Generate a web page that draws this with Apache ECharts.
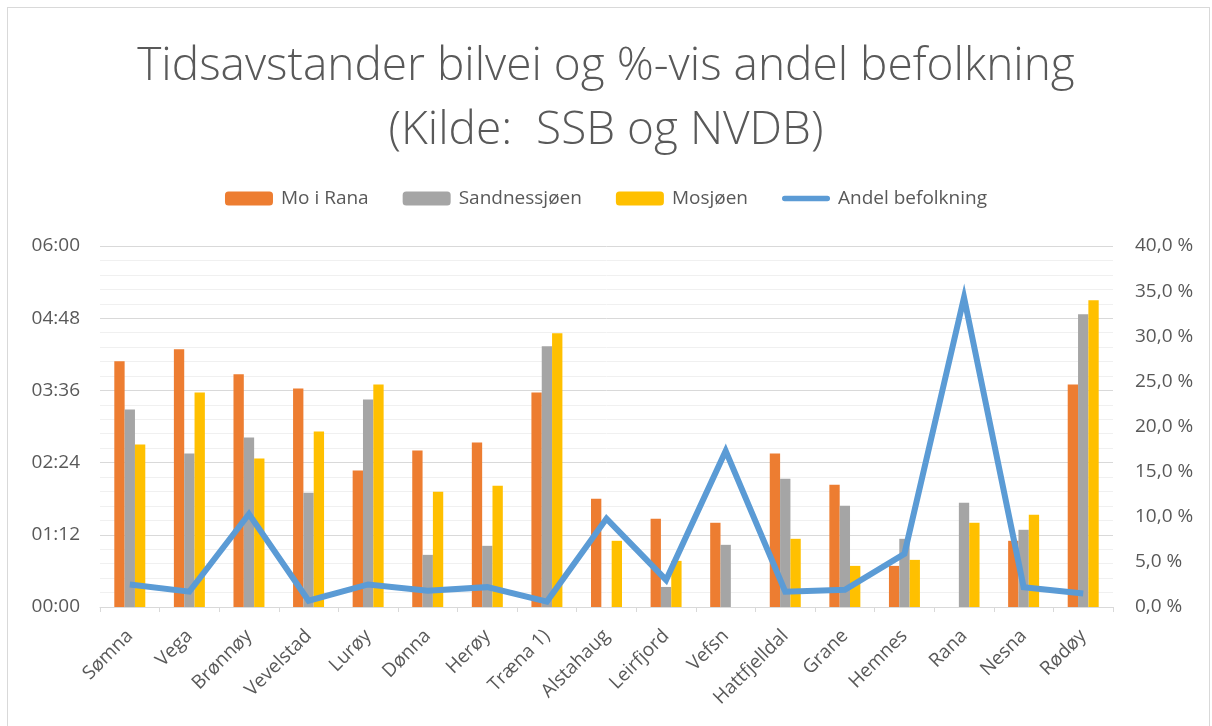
<!DOCTYPE html>
<html>
<head>
<meta charset="utf-8">
<script src="https://cdn.jsdelivr.net/npm/echarts@6/dist/echarts.min.js"></script>
<style>
  html, body { margin: 0; padding: 0; background: #fff; }
  #frame { position: absolute; left: 7px; top: 7px; width: 1203px; height: 720px; border: 1px solid #d9d9d9; box-sizing: border-box; }
  #chart { position: absolute; left: 0; top: 0; width: 1212px; height: 726px; }
</style>
</head>
<body>
<div id="frame"></div>
<div id="chart"></div>
<script>
let kommuner = ['Sømna', 'Vega', 'Brønnøy', 'Vevelstad', 'Lurøy', 'Dønna', 'Herøy', 'Træna 1)', 'Alstahaug', 'Leirfjord', 'Vefsn', 'Hattfjelldal', 'Grane', 'Hemnes', 'Rana', 'Nesna', 'Rødøy'];
// minutter
let moIRana = [245, 257, 232, 218, 136, 156, 164, 214, 108, 88, 84, 153, 122, 41, 0, 66, 222];
let sandnessjoen = [197, 153, 169, 114, 207, 52, 61, 260, 0, 20, 62, 128, 101, 68, 104, 77, 292];
let mosjoen = [162, 214, 148, 175, 222, 115, 121, 273, 66, 46, 0, 68, 41, 47, 84, 92, 306];
// prosent
let andelBefolkning = [2.5, 1.7, 10.3, 0.7, 2.5, 1.8, 2.2, 0.6, 9.8, 3.0, 17.3, 1.7, 1.9, 5.9, 34.3, 2.2, 1.5];

let textColor = '#595959';
let font = 'Open Sans';

function toTime(v) {
    let h = Math.floor(v / 60);
    let m = Math.round(v % 60);
    return String(h).padStart(2, '0') + ':' + String(m).padStart(2, '0');
}

function barSeries(name, data) {
    return {
        name: name,
        type: 'bar',
        barGap: 0,
        barCategoryGap: '48%',
        data: data
    };
}

let options = {
    animation: false,
    color: ['#ED7D31', '#A5A5A5', '#FFC000', '#5B9BD5'],
    title: {
        text: 'Tidsavstander bilvei og %-vis andel befolkning\n(Kilde:  SSB og NVDB)',
        left: 'center',
        top: 30,
        textStyle: {
            fontFamily: font,
            fontWeight: 300,
            fontSize: 46,
            lineHeight: 64,
            color: textColor
        }
    },
    legend: {
        top: 184,
        left: 'center',
        itemWidth: 48,
        itemHeight: 14,
        itemGap: 34,
        textStyle: { fontFamily: font, fontSize: 19, color: textColor, padding: [0, 0, 0, 3] },
        data: [
            'Mo i Rana',
            'Sandnessjøen',
            'Mosjøen',
            { name: 'Andel befolkning', icon: 'path://M3,0 L51,0 A3,3 0 0 1 51,6 L3,6 A3,3 0 0 1 3,0 Z' }
        ]
    },
    grid: { left: 100, right: 99, top: 246, bottom: 119 },
    xAxis: {
        type: 'category',
        data: kommuner,
        axisLine: { lineStyle: { color: '#d9d9d9' } },
        axisTick: { show: true, length: 5, lineStyle: { color: '#d9d9d9' } },
        axisLabel: {
            interval: 0,
            rotate: 45,
            margin: 26,
            fontFamily: font,
            fontSize: 19,
            color: textColor
        }
    },
    yAxis: [
        {
            type: 'value',
            min: 0,
            max: 360,
            interval: 72,
            axisLabel: {
                formatter: toTime,
                margin: 20,
                fontFamily: font,
                fontSize: 19,
                color: textColor
            },
            splitLine: { lineStyle: { color: '#d9d9d9' } },
            minorTick: { show: false, splitNumber: 5 },
            minorSplitLine: { show: true, lineStyle: { color: '#f0f0f0' } }
        },
        {
            type: 'value',
            min: 0,
            max: 40,
            interval: 5,
            axisLabel: {
                formatter: v => v.toFixed(1).replace('.', ',') + ' %',
                margin: 22,
                fontFamily: font,
                fontSize: 19,
                color: textColor
            },
            splitLine: { show: false }
        }
    ],
    series: [
        barSeries('Mo i Rana', moIRana),
        barSeries('Sandnessjøen', sandnessjoen),
        barSeries('Mosjøen', mosjoen),
        {
            name: 'Andel befolkning',
            type: 'line',
            yAxisIndex: 1,
            symbol: 'none',
            lineStyle: { width: 6, color: '#5B9BD5', join: 'miter' },
            data: andelBefolkning
        }
    ]
};

let chart = echarts.init(document.getElementById('chart'));
chart.setOption(options);
</script>
</body>
</html>
